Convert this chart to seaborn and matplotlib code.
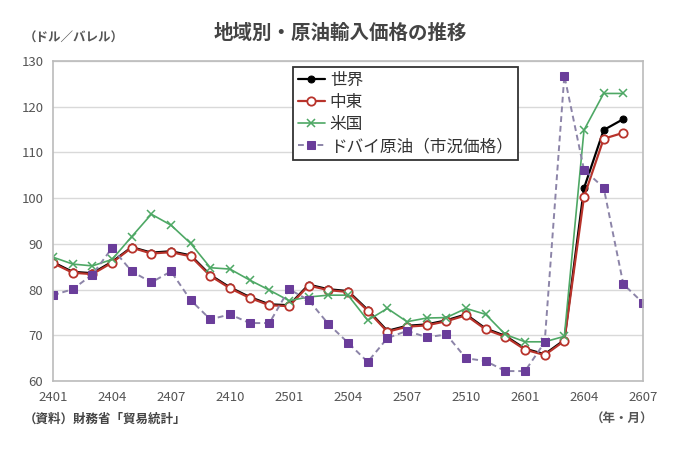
import numpy as np
import pandas as pd
import matplotlib
matplotlib.use("Agg")
import matplotlib.pyplot as plt
import seaborn as sns

# months 2401 .. 2607
months = [f"{y}{m:02d}" for y in (24, 25, 26) for m in range(1, 13)][:31]
tick_labels = ["2401", "2404", "2407", "2410", "2501", "2504", "2507", "2510", "2601", "2604", "2607"]

world = [86.0, 83.9, 83.6, 86.1, 89.3, 88.1, 88.4, 87.5, 83.2, 80.5, 78.4, 76.8, 76.6,
         81.1, 80.1, 79.7, 75.6, 71.0, 72.1, 72.4, 73.3, 74.6, 71.5, 69.9, 67.1, 65.9,
         69.0, 102.2, 114.9, 117.3]
middle_east = [85.8, 83.7, 83.4, 85.9, 89.2, 87.9, 88.2, 87.3, 83.0, 80.3, 78.2, 76.6, 76.4,
               80.9, 79.9, 79.5, 75.4, 70.8, 71.9, 72.2, 73.1, 74.4, 71.3, 69.7, 66.9, 65.7,
               68.8, 100.3, 113.0, 114.3]
usa = [87.1, 85.6, 85.2, 86.6, 91.6, 96.5, 94.1, 90.1, 84.8, 84.5, 82.1, 79.9, 77.6,
       78.4, 78.8, 78.8, 73.3, 75.9, 73.0, 73.8, 73.9, 75.9, 74.6, 70.2, 68.6, 68.6,
       69.8, 114.9, 122.9, 122.9]
dubai = [78.8, 80.1, 83.3, 89.1, 84.0, 81.6, 84.0, 77.7, 73.5, 74.6, 72.7, 72.7, 80.1,
         77.7, 72.5, 68.4, 64.2, 69.4, 71.0, 69.6, 70.2, 65.0, 64.4, 62.2, 62.2, 68.5,
         126.8, 106.2, 102.3, 81.2, 77.1]

sns.set_style("white")
plt.rcParams['font.family'] = ['Noto Sans CJK JP', 'DejaVu Sans']

fig = plt.figure(figsize=(6.8, 4.62), dpi=100)
ax = fig.add_axes([0.078, 0.175, 0.8676, 0.693])

x_w = np.arange(len(world))
x_d = np.arange(len(dubai))

green = '#4EA865'
sns.lineplot(x=x_w, y=world, ax=ax, color='black', marker='o', markersize=5,
             markeredgecolor='black', linewidth=1.6, label='世界')
sns.lineplot(x=x_w, y=middle_east, ax=ax, color='#B8332B', marker='o', markersize=6,
             markerfacecolor='white', markeredgecolor='#B8332B', markeredgewidth=1.3,
             linewidth=1.6, label='中東')
sns.lineplot(x=x_w, y=usa, ax=ax, color=green, marker='x', markersize=5.5,
             markeredgecolor=green, markeredgewidth=1.1, linewidth=1.2, label='米国')
sns.lineplot(x=x_d, y=dubai, ax=ax, color='#8C84A8', linestyle=(0, (3, 2)), marker='s',
             markersize=6, markerfacecolor='#6A3D9A', markeredgecolor='#6A3D9A',
             linewidth=1.4, label='ドバイ原油（市況価格）')

ax.set_xlim(0, 30)
ax.set_ylim(60, 130)
ax.set_yticks(range(60, 131, 10))
ax.set_xticks([months.index(t) for t in tick_labels])
ax.set_xticklabels(tick_labels)
ax.tick_params(axis='both', labelsize=9.5, colors='#555555', length=0, pad=7)
ax.grid(axis='y', color='#D9D9D9', linewidth=1)
ax.set_axisbelow(True)
for s in ax.spines.values():
    s.set_color('#BBBBBB')
    s.set_linewidth(1.2)
ax.set_xlabel('')
ax.set_ylabel('')

leg = ax.legend(loc='upper left', bbox_to_anchor=(0.407, 0.981), borderaxespad=0,
                fontsize=12, frameon=True, fancybox=False, edgecolor='#333333',
                framealpha=1, handlelength=1.6, handletextpad=0.3, borderpad=0.3,
                labelspacing=0.3)
leg.get_frame().set_linewidth(1.3)
for t in leg.get_texts():
    t.set_color('#333333')

fig.text(0.5, 0.928, '地域別・原油輸入価格の推移', ha='center', va='center',
         fontsize=14, fontweight='bold', color='#444444')
fig.text(0.035, 0.918, '（ドル／バレル）', ha='left', va='center', fontsize=9,
         fontweight='bold', color='#555555')
fig.text(0.035, 0.092, '（資料）財務省「貿易統計」', ha='left', va='center', fontsize=9,
         fontweight='bold', color='#444444')
fig.text(0.96, 0.092, '（年・月）', ha='right', va='center', fontsize=9,
         fontweight='bold', color='#555555')

fig.savefig('out.png', dpi=100)
